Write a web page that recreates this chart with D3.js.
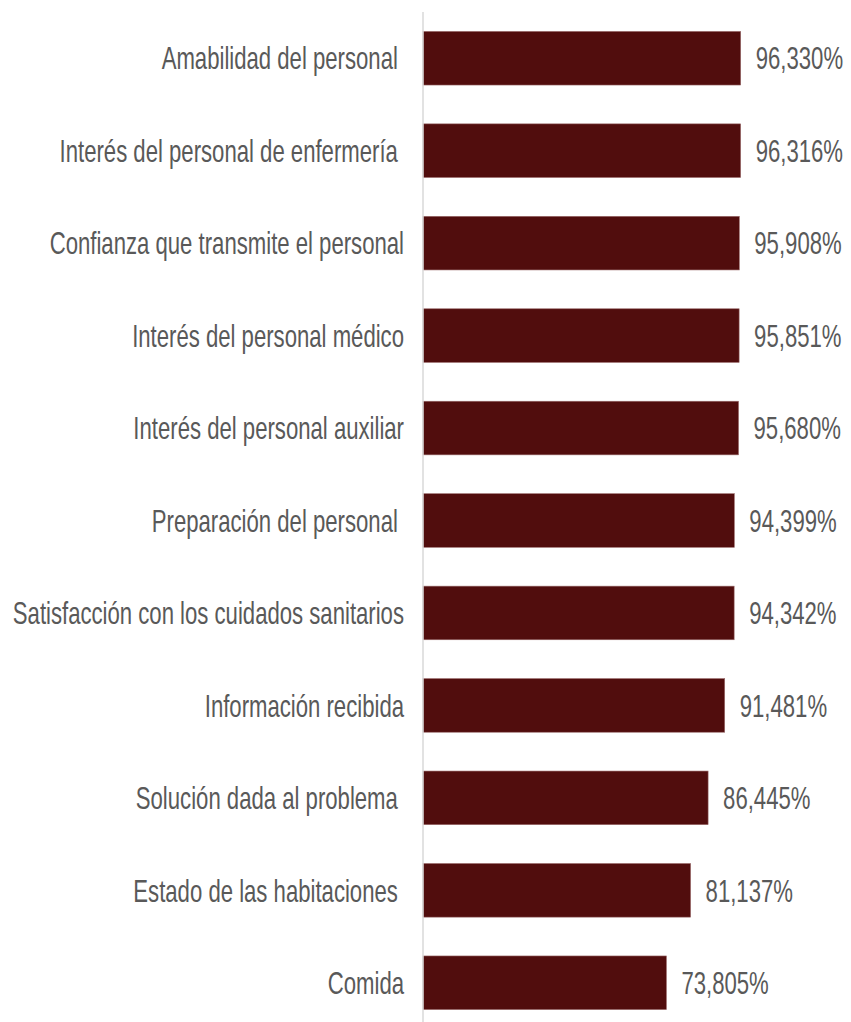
<!DOCTYPE html>
<html>
<head>
<meta charset="utf-8">
<script src="https://cdn.jsdelivr.net/npm/d3@7"></script>
<style>
  body { margin: 0; background: #fff; }
  text { font-family: "Liberation Sans", Arial, sans-serif; fill: #595959; white-space: pre; }
</style>
</head>
<body>
<div id="chart"></div>
<script>
// items, top to bottom (trailing spaces kept as in the source labels)
var categories = [
  "Amabilidad del personal ",
  "Interés del personal de enfermería ",
  "Confianza que transmite el personal",
  "Interés del personal médico",
  "Interés del personal auxiliar",
  "Preparación del personal ",
  "Satisfacción con los cuidados sanitarios",
  "Información recibida",
  "Solución dada al problema ",
  "Estado de las habitaciones ",
  "Comida"
];
var values = [96.330, 96.316, 95.908, 95.851, 95.680, 94.399, 94.342, 91.481, 86.445, 81.137, 73.805];

var width = 851, height = 1022,
    axisX = 423, fontSize = 27,
    sx = 0.82, sy = 1.19; // narrow, tall lettering like the source

var x = d3.scaleLinear().domain([0, 100]).range([axisX, axisX + 329.8]);
var y = d3.scaleBand().domain(categories).range([12, 1029]).paddingInner(0.42).paddingOuter(0.21);

var fmt = function(v) { return d3.format(".3f")(v).replace(".", ",") + "%"; };

var svg = d3.select("#chart").append("svg")
    .attr("width", width)
    .attr("height", height);

svg.selectAll("rect.bar")
    .data(values)
  .enter().append("rect")
    .attr("class", "bar")
    .attr("x", x(0))
    .attr("y", function(d, i) { return y(categories[i]); })
    .attr("width", function(d) { return x(d) - x(0); })
    .attr("height", y.bandwidth())
    .attr("fill", "#510d0d")
    .attr("stroke", "#9a6a6a")
    .attr("stroke-width", 0.6);

// vertical axis line
svg.append("line")
    .attr("x1", axisX).attr("x2", axisX)
    .attr("y1", 12).attr("y2", height)
    .attr("stroke", "#d9d9d9")
    .attr("stroke-width", 1.5);

// category labels
svg.selectAll("text.cat")
    .data(categories)
  .enter().append("text")
    .attr("class", "cat")
    .attr("text-anchor", "end")
    .attr("dy", "0.35em")
    .attr("font-size", fontSize)
    .attr("transform", function(d) {
      return "translate(" + (axisX - 19) + "," + (y(d) + y.bandwidth() / 2) + ") scale(" + sx + "," + sy + ")";
    })
    .text(function(d) { return d; });

// value labels
svg.selectAll("text.val")
    .data(values)
  .enter().append("text")
    .attr("class", "val")
    .attr("dy", "0.35em")
    .attr("font-size", fontSize)
    .attr("transform", function(d, i) {
      return "translate(" + (x(d) + 15) + "," + (y(categories[i]) + y.bandwidth() / 2) + ") scale(" + sx + "," + sy + ")";
    })
    .text(fmt);
</script>
</body>
</html>
